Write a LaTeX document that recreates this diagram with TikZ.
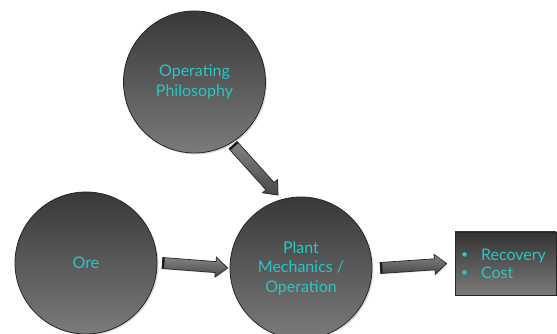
\documentclass[tikz,border=0pt]{standalone}
\usepackage{fontspec}
\setmainfont{Lato}
\usetikzlibrary{calc,shadows}
\definecolor{txtcyan}{RGB}{40,198,198}
\tikzset{
  bubble/.style={circle, minimum size=142pt, inner sep=0pt,
    draw=black!85, line width=0.8pt,
    top color=black!78, bottom color=black!52,
    drop shadow={opacity=0.25, shadow xshift=1.5pt, shadow yshift=-1.5pt},
    text=txtcyan, font=\fontsize{16}{19.5}\selectfont, align=center},
  resultbox/.style={rectangle, minimum width=101pt, minimum height=63pt,
    inner sep=0pt, draw=black!85, line width=0.8pt,
    top color=black!80, bottom color=black!52,
    drop shadow={opacity=0.25, shadow xshift=1.5pt, shadow yshift=-1.5pt},
    text=txtcyan, font=\fontsize{16}{18}\selectfont, align=left},
  arrowbody/.style={draw=black!85, line width=0.7pt,
    top color=black!48, bottom color=black!72,
    drop shadow={opacity=0.25, shadow xshift=1pt, shadow yshift=-1pt}},
  arrowtail/.style={draw=black!90, line width=2pt}
}
\newcommand\smallbullet{\raisebox{0.15ex}{\scalebox{0.75}{\textbullet}}}
% block arrow from #2 to #3
\newcommand\blockarrow[3][]{%
  \coordinate (ba-b) at ($(#3)!12pt!(#2)$);
  \path[arrowbody,#1]
    ($(#2)!5.5pt!90:(#3)$) -- ($(ba-b)!5.5pt!-90:(#2)$)
    -- ($(ba-b)!10pt!-90:(#2)$) -- (#3)
    -- ($(ba-b)!10pt!90:(#2)$) -- ($(ba-b)!5.5pt!90:(#2)$)
    -- ($(#2)!5.5pt!-90:(#3)$) -- cycle;
  \draw[arrowtail] ($($(#2)!1pt!(#3)$)!5pt!90:(#3)$) -- ($($(#2)!1pt!(#3)$)!5pt!-90:(#3)$);}
\begin{document}
\begin{tikzpicture}[x=1pt,y=1pt]
  \useasboundingbox[fill=white] (0,0) rectangle (557,334);

  \node[bubble] (phil)  at (194.5,252) {Operating\\Philosophy};
  \node[bubble] (ore)   at (86,71)     {Ore};
  \node[bubble] (plant) at (301,66)    {Plant\\Mechanics /\\Operation};
  \node[resultbox] (res) at (505.5,70.5) {};
  \node[text=txtcyan, font=\fontsize{16}{18}\selectfont, anchor=west, align=left]
    (reslist) at ([xshift=3pt]res.west)
    {\smallbullet\hspace{13pt}Recovery\\\smallbullet\hspace{13pt}Cost};

  \coordinate (a1s) at ([xshift=5pt]ore.east);
  \coordinate (a1e) at ([xshift=-2pt]plant.west);
  \coordinate (a2s) at ([xshift=8pt]plant.east);
  \coordinate (a2e) at ([xshift=-8pt]res.west);
  \coordinate (a3s) at ($(phil.center)+(-58.6:74)$);
  \coordinate (a3e) at ($(plant.center)+(107.5:76.5)$);

  \blockarrow{a1s}{a1e}
  \blockarrow{a2s}{a2e}
  \blockarrow{a3s}{a3e}
\end{tikzpicture}
\end{document}
